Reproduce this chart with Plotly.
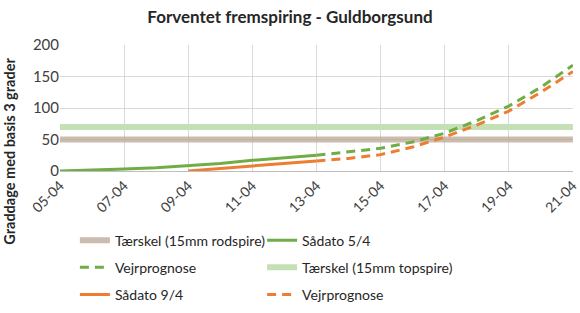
import plotly.graph_objects as go

dates_obs1 = ["2024-04-05", "2024-04-06", "2024-04-07", "2024-04-08", "2024-04-09",
              "2024-04-10", "2024-04-11", "2024-04-12", "2024-04-13"]
obs1 = [0, 1, 3, 5, 8, 12, 17, 21, 25]
dates_fc = ["2024-04-13", "2024-04-14", "2024-04-15", "2024-04-16", "2024-04-17",
            "2024-04-18", "2024-04-19", "2024-04-20", "2024-04-21"]
fc1 = [25, 30, 36, 46, 60, 80, 103, 133, 168]
dates_obs2 = ["2024-04-09", "2024-04-10", "2024-04-11", "2024-04-12", "2024-04-13"]
obs2 = [0, 4, 8, 12, 16]
fc2 = [16, 20, 26, 38, 54, 73, 95, 125, 158]
thr_dates = ["2024-04-05", "2024-04-21"]
thr_rod = 50
thr_top = 70

GREEN = "#70AD47"
ORANGE = "#ED7D31"
BROWN = "rgba(185,162,143,0.72)"
LGREEN = "#C5E0B4"
FONT = "Lato"

fig = go.Figure()
fig.add_trace(go.Scatter(x=thr_dates, y=[thr_top, thr_top], mode="lines",
                         line=dict(color=LGREEN, width=6), name="Tærskel (15mm topspire)",
                         legend="legend2", legendgroup="d", legendrank=2))
fig.add_trace(go.Scatter(x=thr_dates, y=[thr_rod, thr_rod], mode="lines",
                         line=dict(color=BROWN, width=6), name="Tærskel (15mm rodspire)",
                         legend="legend", legendgroup="a", legendrank=1))
fig.add_trace(go.Scatter(x=dates_obs1, y=obs1, mode="lines",
                         line=dict(color=GREEN, width=3), name="Sådato 5/4",
                         legend="legend2", legendgroup="e", legendrank=1))
fig.add_trace(go.Scatter(x=dates_fc, y=fc1, mode="lines",
                         line=dict(color=GREEN, width=3, dash="9px,6px"), name="Vejrprognose",
                         legend="legend", legendgroup="b", legendrank=2))
fig.add_trace(go.Scatter(x=dates_obs2, y=obs2, mode="lines",
                         line=dict(color=ORANGE, width=3), name="Sådato 9/4",
                         legend="legend", legendgroup="c", legendrank=3))
fig.add_trace(go.Scatter(x=dates_fc, y=fc2, mode="lines",
                         line=dict(color=ORANGE, width=3, dash="9px,6px"), name="Vejrprognose",
                         legend="legend2", legendgroup="f", legendrank=3))

leg_common = dict(font=dict(family=FONT, size=14, color="#262626"), bgcolor="rgba(0,0,0,0)",
                  tracegroupgap=6, itemwidth=30, yanchor="top", xanchor="left")

fig.update_layout(
    width=580, height=313,
    margin=dict(l=60, r=7, t=45, b=142, autoexpand=False),
    paper_bgcolor="white", plot_bgcolor="white",
    title=dict(text="<b>Forventet fremspiring - Guldborgsund</b>", x=0.5, xanchor="center",
               y=0.945, yanchor="middle", font=dict(family=FONT, size=17, color="#262626")),
    font=dict(family=FONT, size=13, color="#404040"),
    xaxis=dict(type="date", range=["2024-04-05", "2024-04-21 00:05"], dtick=2 * 86400000,
               tick0="2024-04-05", tickformat="%d-%m", tickangle=-45,
               showgrid=True, gridcolor="#D9D9D9", gridwidth=1,
               showline=True, linecolor="#BFBFBF", mirror=False, ticks="",
               tickfont=dict(family=FONT, size=14, color="#404040"), zeroline=False),
    yaxis=dict(range=[0, 200], dtick=50, showgrid=True, gridcolor="#D9D9D9", gridwidth=1,
               zeroline=False, showline=False, ticks="",
               tickfont=dict(family=FONT, size=15, color="#404040")),
    legend=dict(x=0.029, y=-0.425, **leg_common),
    legend2=dict(x=0.394, y=-0.425, **leg_common),
    showlegend=True,
)
fig.add_annotation(text="<b>Graddage med basis 3 grader</b>", textangle=-90,
                   xref="paper", yref="paper", x=-0.1, y=(171 - 151) / 126,
                   xanchor="center", yanchor="middle", showarrow=False,
                   font=dict(family=FONT, size=14.5, color="#262626"))

fig.write_html("out.html")
